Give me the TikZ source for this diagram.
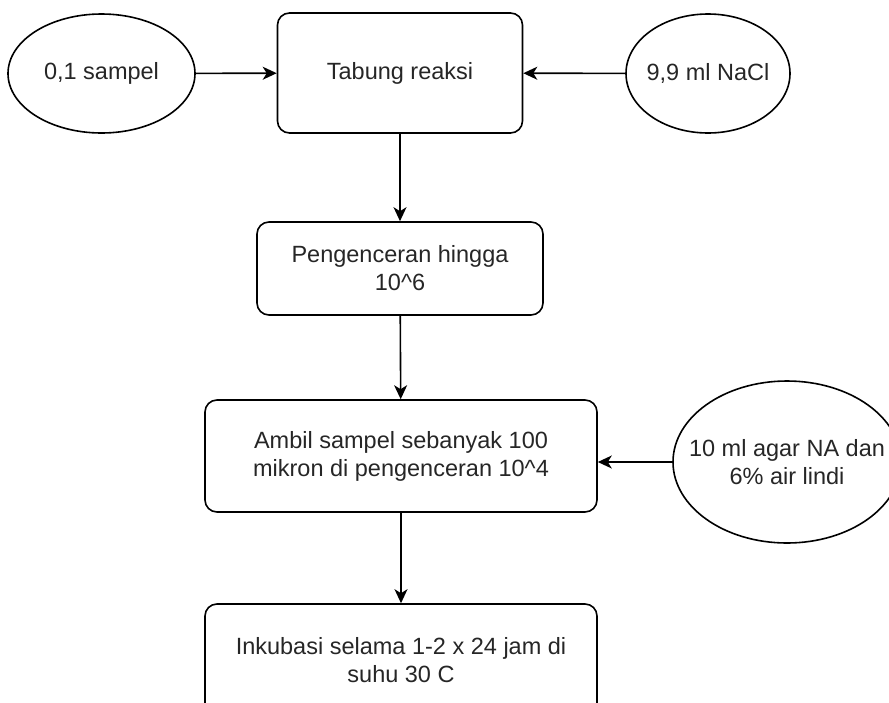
\documentclass[tikz,border=0pt]{standalone}
\usepackage{fontspec}
\setmainfont{Liberation Sans}
\usetikzlibrary{shapes.geometric,arrows.meta}
\begin{document}
\begin{tikzpicture}[x=1pt,y=-1pt,
  every node/.style={font=\fontsize{23.5}{28}\selectfont, text=black!85, align=center},
  stepbox/.style={draw, line width=1.6pt, rounded corners=12pt, inner sep=0pt},
  oval/.style={draw, ellipse, line width=1.6pt, inner sep=0pt},
  arr/.style={draw, line width=1.6pt, -{Stealth[length=14pt,width=13pt,inset=4pt]}}]
  \useasboundingbox (0,0) rectangle (889,702);
  \clip (0,0) rectangle (889,702);
  % input ovals: outline first, label on top
  \node[oval, minimum width=187pt, minimum height=119pt] (s1) at (101.5,73.5) {};
  \node at (s1) {0,1 sampel};
  \node[oval, minimum width=164pt, minimum height=119pt] (nacl) at (708,73.5) {};
  \node at (nacl) {9,9 ml NaCl};
  \node[oval, minimum width=228pt, minimum height=162pt] (agar) at (787,462) {};
  \node at (agar) {10 ml agar NA dan\\6\% air lindi};
  % process steps
  \node[stepbox, minimum width=245pt, minimum height=120pt] (tab) at (400,73) {Tabung reaksi};
  \node[stepbox, minimum width=286pt, minimum height=93pt] (enc) at (400,268.5) {Pengenceran hingga\\10\textasciicircum 6};
  \node[stepbox, minimum width=392pt, minimum height=112pt] (amb) at (401,456) {Ambil sampel sebanyak 100\\mikron di pengenceran 10\textasciicircum 4};
  \node[stepbox, minimum width=392pt, minimum height=112pt] (ink) at (401,660) {Inkubasi selama 1-2 x 24 jam di\\suhu 30 C};
  % connectors
  \draw[arr] (s1) -- (tab);
  \draw[arr] (nacl) -- (tab);
  \draw[arr] (tab) -- (enc);
  \draw[arr] (enc) -- (amb);
  \draw[arr] (agar.west) -- (agar.west -| amb.east);
  \draw[arr] (amb) -- (ink);
\end{tikzpicture}
\end{document}
